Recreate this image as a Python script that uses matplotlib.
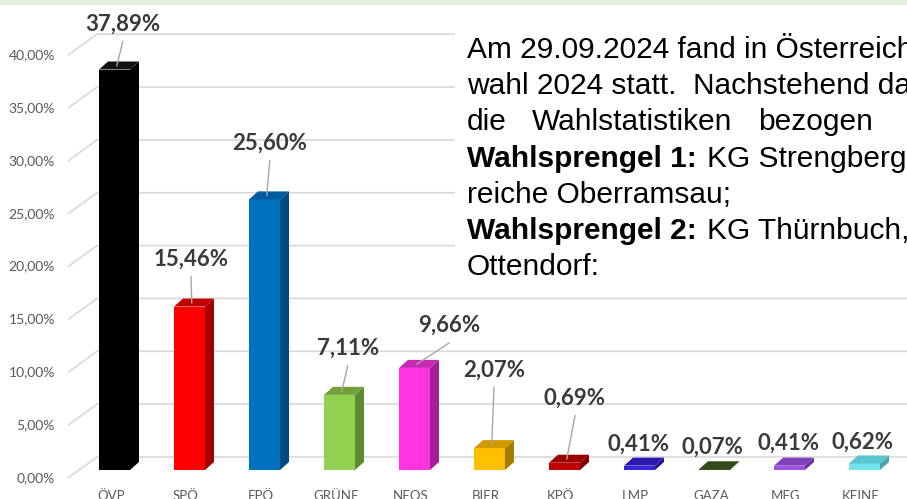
import matplotlib
matplotlib.use("Agg")
import matplotlib.pyplot as plt
from matplotlib.patches import Polygon, Rectangle

# Daten
parteien = ["ÖVP", "SPÖ", "FPÖ", "GRÜNE", "NEOS", "BIER", "KPÖ", "LMP", "GAZA", "MFG", "KEINE"]
anteile = [37.89, 15.46, 25.60, 7.11, 9.66, 2.07, 0.69, 0.41, 0.07, 0.41, 0.62]
ticks = [0, 5, 10, 15, 20, 25, 30, 35, 40]

# Farben: Vorderseite, Seite, Deckel
farbe_vorne = ["#000000", "#FF0000", "#0070C0", "#92D050", "#FF33E0", "#FFC000",
               "#C00000", "#3A22D6", "#3D5A1E", "#A050DC", "#70E2EE"]
farbe_seite = ["#000000", "#A00000", "#004A80", "#5E8A30", "#A61F96", "#A67C00",
               "#800000", "#22148A", "#283C12", "#6A3296", "#4AA6AE"]
farbe_oben = ["#111111", "#C00000", "#005A9E", "#70A03A", "#C828B4", "#D09A00",
              "#9A0000", "#2C1AB0", "#324A18", "#8040BC", "#5CC4CC"]

# Lage der Beschriftungen relativ zum Balken (x in Kategorien, y in %)
label_dx = [0.11, 0.02, 0.07, 0.11, 0.46, 0.06, 0.14, -0.02, -0.03, -0.02, -0.03]
label_dy = [4.3, 4.5, 5.3, 4.4, 4.0, 7.4, 6.1, 2.05, 2.1, 2.15, 2.05]

W, H = 907, 499
fig = plt.figure(figsize=(W / 100, H / 100), dpi=100)
ax = fig.add_axes([0, 0, 1, 1])
ax.axis("off")

# Skalen so wählen, dass das Diagramm wie im Original liegt
px_x = 75.0     # Pixel je Kategorie
px_y = 10.57    # Pixel je Prozentpunkt
x0, y0 = 114.5, 470.0
ax.set_xlim(-x0 / px_x, (W - x0) / px_x)
ax.set_ylim((y0 - H) / px_y, y0 / px_y)

breite = 31 / px_x
tiefe_x = 9 / px_x
tiefe_y = 8 / px_y
wand = 13 / px_y
grid_farbe = "#D9D9D9"
xmax = (W - x0) / px_x

# Gitterlinien (3D-Rückwand) und Achsenbeschriftung
for t in ticks:
    ax.plot([-0.62, -0.233, xmax], [t - 0.76, t + wand, t + wand],
            color=grid_farbe, lw=1.2, zorder=1, solid_capstyle="butt")
    ax.text(-0.793, t - 0.76, f"{t:.2f}%".replace(".", ","), ha="right", va="center",
            fontsize=10, color="#595959", family="Lato")

# Balken mit Seite und Deckel
xs = list(range(len(parteien)))
ax.bar(xs, anteile, width=breite, color=farbe_vorne, zorder=3)
for i, v in enumerate(anteile):
    r = i + breite / 2
    l = i - breite / 2
    ax.add_patch(Polygon([(r, 0), (r + tiefe_x, tiefe_y), (r + tiefe_x, v + tiefe_y), (r, v)],
                         closed=True, facecolor=farbe_seite[i], edgecolor="none", zorder=3))
    ax.add_patch(Polygon([(l, v), (r, v), (r + tiefe_x, v + tiefe_y), (l + tiefe_x, v + tiefe_y)],
                         closed=True, facecolor=farbe_oben[i], edgecolor="none", zorder=3))

# Datenbeschriftungen mit Führungslinien
for i, v in enumerate(anteile):
    lx = i + label_dx[i]
    ly = v + label_dy[i]
    ax.text(lx, ly, f"{v:.2f}%".replace(".", ","), ha="center", va="center",
            fontsize=16, fontweight="bold", color="#3A3A3A", family="Lato", zorder=6)
    if label_dy[i] > 3:
        ax.plot([lx, i + 0.03], [ly - 1.65, v + 0.35], color="#A6A6A6", lw=1, zorder=4)

# Kategorien (unten abgeschnitten wie im Original)
for i, p in enumerate(parteien):
    ax.text(i - 0.05, -1.9, p, ha="center", va="top", fontsize=9.5,
            color="#595959", family="Lato")

# Textfeld rechts oben
ax.add_patch(Rectangle((455 / W, 1 - 290 / H), 1, (290 - 28) / H, transform=ax.transAxes,
                       facecolor="white", edgecolor="none", zorder=5))


def zeile(x, y, s, bold=False):
    fig.text(x / W, 1 - y / H, s, ha="left", va="baseline", fontsize=21.5,
             family="Liberation Sans", fontweight="bold" if bold else "normal",
             color="black", zorder=7)


basis = [58 + 36.2 * k for k in range(7)]
zeile(467, basis[0], "Am 29.09.2024 fand in Österreich")
zeile(467, basis[1], "wahl 2024 statt.  Nachstehend da")
zeile(467, basis[2], "die")
zeile(532, basis[2], "Wahlstatistiken")
zeile(758, basis[2], "bezogen")
zeile(467, basis[3], "Wahlsprengel 1:", bold=True)
zeile(707, basis[3], "KG Strengberg")
zeile(467, basis[4], "reiche Oberramsau;")
zeile(467, basis[5], "Wahlsprengel 2:", bold=True)
zeile(707, basis[5], "KG Thürnbuch,")
zeile(467, basis[6], "Ottendorf:")

# grüner Streifen oben
fig.patches.append(Rectangle((0, 1 - 5 / H), 1, 5 / H, transform=fig.transFigure,
                             facecolor="#E2EFDA", edgecolor="none", zorder=10))

fig.savefig("out.png", dpi=100)
